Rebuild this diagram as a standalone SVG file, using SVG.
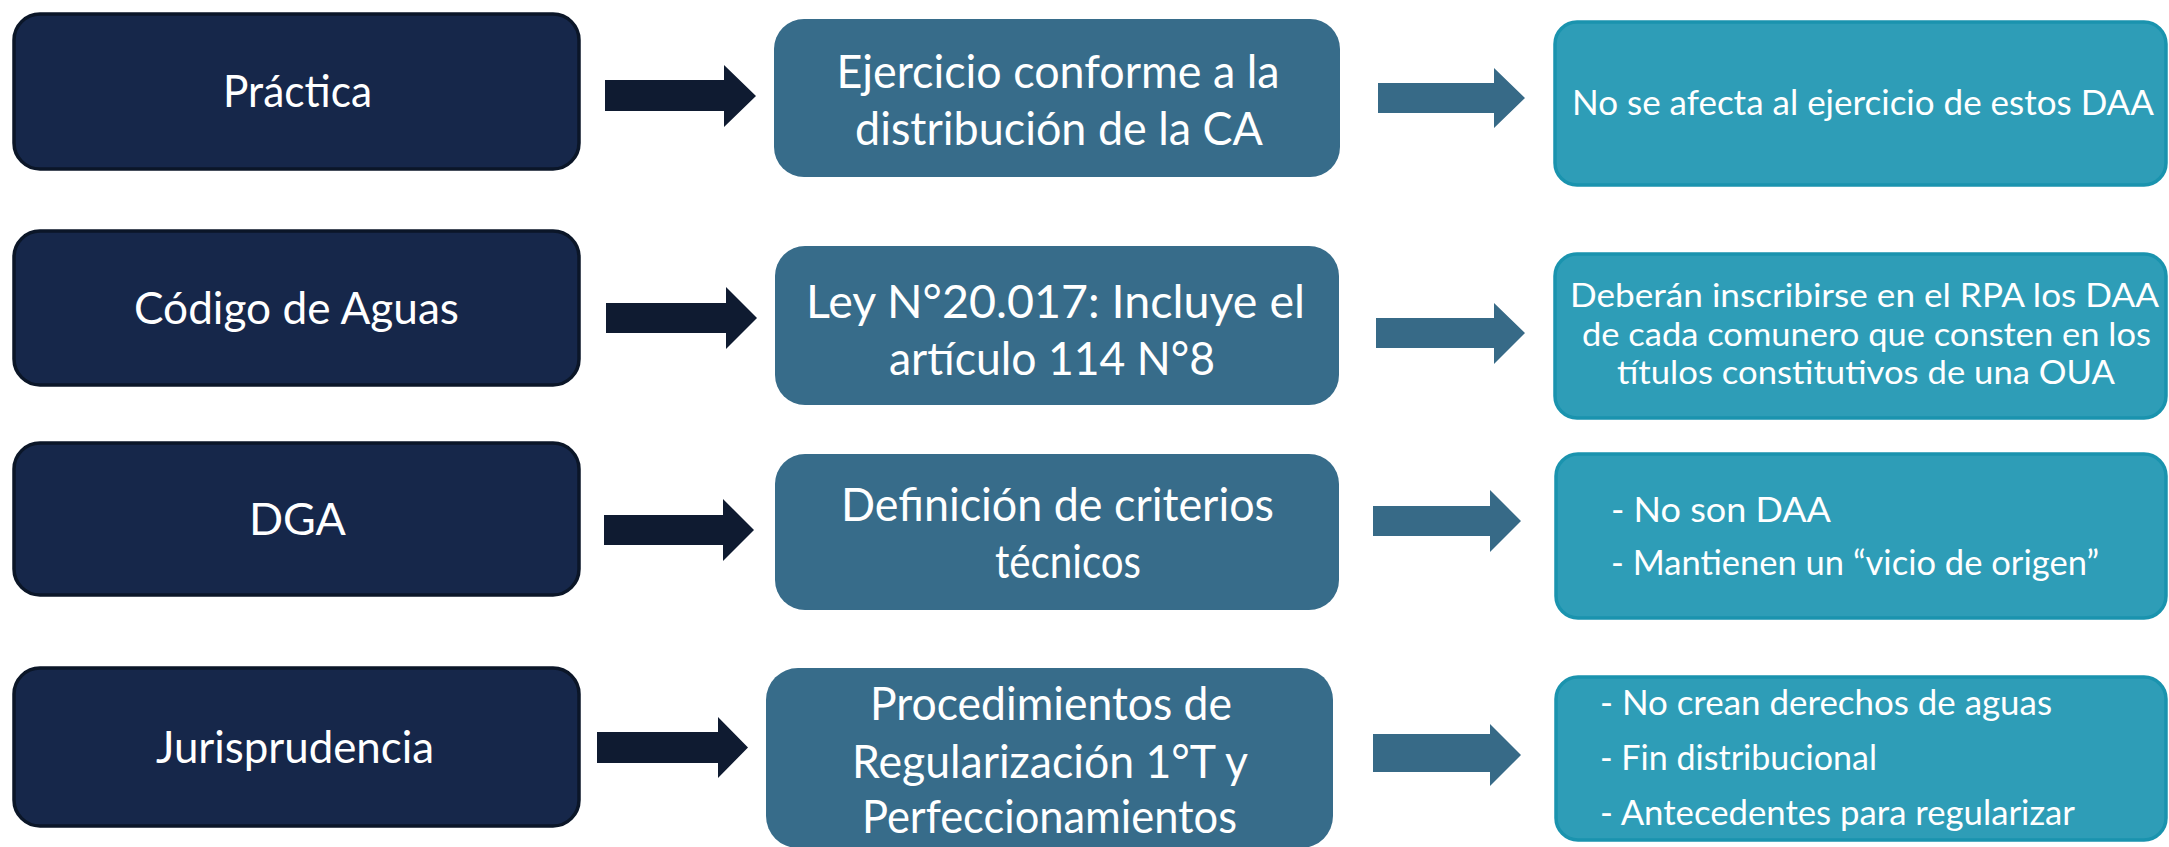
<svg xmlns="http://www.w3.org/2000/svg" width="2169" height="847" viewBox="0 0 2169 847">
<defs>
<style>
.lbox{fill:#16274a;stroke:#0b1628;stroke-width:3.5}
.mbox{fill:#376c8a}
.rbox{fill:#2e9db7;stroke:#1a93ae;stroke-width:3.5}
.darr{fill:#0f1b31}
.marr{fill:#376a87}
text{font-family:Lato,"Open Sans","Liberation Sans",sans-serif;fill:#ffffff}
.lt{font-size:44px;text-anchor:middle}
.mt{font-size:46px;text-anchor:middle}
.rt{font-size:34px;text-anchor:middle}
.rs{font-size:32px;text-anchor:middle}
.rl{font-size:35px}
</style>
</defs>
<rect width="2169" height="847" fill="#ffffff"/>
<g id="connectors">
<path class="darr" d="M605,80 H724 V65 L756,96 L724,127 V111 H605 Z"/>
<path class="darr" d="M606,303 H726 V287 L757,318 L726,349 V333 H606 Z"/>
<path class="darr" d="M604,515 H723 V499 L754,530 L723,561 V545 H604 Z"/>
<path class="darr" d="M597,732 H718 V717 L748,747.5 L718,778 V763 H597 Z"/>
<path class="marr" d="M1378,83 H1494 V68 L1525,98 L1494,128 V113 H1378 Z"/>
<path class="marr" d="M1376,318 H1494 V303 L1525,333 L1494,364 V348 H1376 Z"/>
<path class="marr" d="M1373,506 H1490 V490 L1521,521 L1490,552 V536 H1373 Z"/>
<path class="marr" d="M1373,734 H1490 V724 L1521,755 L1490,786 V772 H1373 Z"/>
</g>
<g id="practica">
<rect class="lbox" x="14" y="14" width="565" height="155" rx="26"/>
<text class="lt" x="297.5" y="107" textLength="149" lengthAdjust="spacingAndGlyphs">Práctica</text>
</g>
<g id="codigo">
<rect class="lbox" x="14" y="231" width="565" height="154" rx="26"/>
<text class="lt" x="296.5" y="324" textLength="325" lengthAdjust="spacingAndGlyphs">Código de Aguas</text>
</g>
<g id="dga">
<rect class="lbox" x="14" y="443" width="565" height="152" rx="26"/>
<text class="lt" x="297.5" y="535" textLength="97" lengthAdjust="spacingAndGlyphs">DGA</text>
</g>
<g id="jurisprudencia">
<rect class="lbox" x="14" y="668" width="565" height="158" rx="26"/>
<text class="lt" x="295" y="763" textLength="278" lengthAdjust="spacingAndGlyphs">Jurisprudencia</text>
</g>
<g id="ejercicio">
<rect class="mbox" x="774" y="19" width="566" height="158" rx="30"/>
<text class="mt" x="1058" y="88" textLength="443" lengthAdjust="spacingAndGlyphs">Ejercicio conforme a la</text>
<text class="mt" x="1059" y="145" textLength="408" lengthAdjust="spacingAndGlyphs">distribución de la CA</text>
</g>
<g id="ley">
<rect class="mbox" x="775" y="246" width="564" height="159" rx="30"/>
<text class="mt" x="1055.5" y="318" textLength="499" lengthAdjust="spacingAndGlyphs">Ley N°20.017: Incluye el</text>
<text class="mt" x="1052" y="375" textLength="326" lengthAdjust="spacingAndGlyphs">artículo 114 N°8</text>
</g>
<g id="definicion">
<rect class="mbox" x="775" y="454" width="564" height="156" rx="30"/>
<text class="mt" x="1057.5" y="521" textLength="433" lengthAdjust="spacingAndGlyphs">Definición de criterios</text>
<text class="mt" x="1068" y="578" textLength="146" lengthAdjust="spacingAndGlyphs">técnicos</text>
</g>
<g id="procedimientos">
<rect class="mbox" x="766" y="668" width="567" height="180" rx="32"/>
<text class="mt" x="1051" y="720" textLength="362" lengthAdjust="spacingAndGlyphs">Procedimientos de</text>
<text class="mt" x="1050" y="778" textLength="396" lengthAdjust="spacingAndGlyphs">Regularización 1°T y</text>
<text class="mt" x="1049.5" y="833" textLength="375" lengthAdjust="spacingAndGlyphs">Perfeccionamientos</text>
</g>
<g id="noafecta">
<rect class="rbox" x="1555" y="22" width="611" height="163" rx="22"/>
<text class="rt" x="1863" y="115" textLength="582" lengthAdjust="spacingAndGlyphs">No se afecta al ejercicio de estos DAA</text>
</g>
<g id="deberan">
<rect class="rbox" x="1555" y="254" width="611" height="164" rx="22"/>
<text class="rs" x="1864.5" y="307" textLength="589" lengthAdjust="spacingAndGlyphs">Deberán inscribirse en el RPA los DAA</text>
<text class="rs" x="1866.5" y="345.5" textLength="569" lengthAdjust="spacingAndGlyphs">de cada comunero que consten en los</text>
<text class="rs" x="1866" y="384" textLength="498" lengthAdjust="spacingAndGlyphs">títulos constitutivos de una OUA</text>
</g>
<g id="noson">
<rect class="rbox" x="1556" y="454" width="610" height="164" rx="22"/>
<text class="rl" x="1611" y="522" textLength="220" lengthAdjust="spacingAndGlyphs">- No son DAA</text>
<text class="rl" x="1611" y="575" textLength="488" lengthAdjust="spacingAndGlyphs">- Mantienen un “vicio de origen”</text>
</g>
<g id="nocrean">
<rect class="rbox" x="1556" y="677" width="610" height="163" rx="22"/>
<text class="rl" x="1600" y="715" textLength="452" lengthAdjust="spacingAndGlyphs">- No crean derechos de aguas</text>
<text class="rl" x="1600" y="770" textLength="277" lengthAdjust="spacingAndGlyphs">- Fin distribucional</text>
<text class="rl" x="1600" y="825" textLength="475" lengthAdjust="spacingAndGlyphs">- Antecedentes para regularizar</text>
</g>
</svg>
